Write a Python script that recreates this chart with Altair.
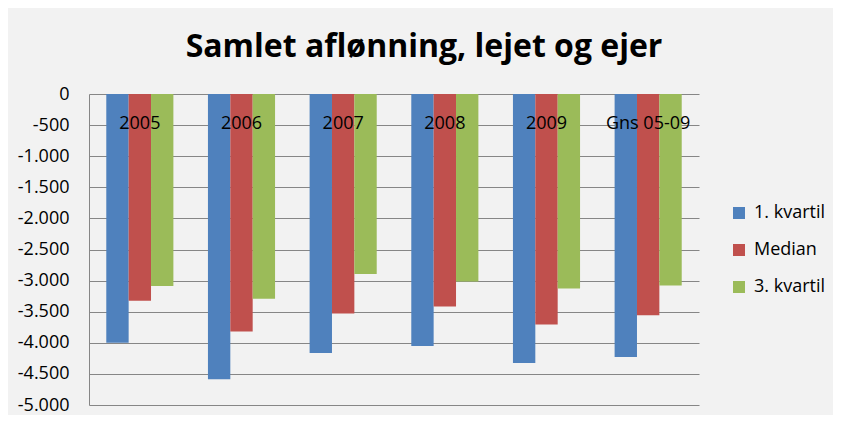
import altair as alt
import pandas as pd

categories = ["2005", "2006", "2007", "2008", "2009", "Gns 05-09"]
series_names = ["1. kvartil", "Median", "3. kvartil"]
q1 = [-4000, -4585, -4165, -4053, -4324, -4229]
median = [-3324, -3819, -3527, -3415, -3707, -3559]
q3 = [-3085, -3293, -2894, -3016, -3128, -3080]
colors = ["#4F81BD", "#C0504D", "#9BBB59"]

rows = []
for name, vals in zip(series_names, [q1, median, q3]):
    for c, v in zip(categories, vals):
        rows.append({"Kategori": c, "Serie": name, "Værdi": v})
df = pd.DataFrame(rows)

FONT = "Open Sans"
W, H = 610, 311

chart = alt.Chart(df).mark_bar().encode(
    x=alt.X("Kategori:N", sort=categories, title=None,
            scale=alt.Scale(paddingInner=0.34, paddingOuter=0.17),
            axis=alt.Axis(orient="bottom", offset=-H, domain=False, ticks=False,
                          labelAngle=0, labelPadding=20, labelFontSize=18,
                          labelFont=FONT, labelColor="#000000", grid=False,
                          zindex=1)),
    xOffset=alt.XOffset("Serie:N", sort=series_names),
    y=alt.Y("Værdi:Q", title=None,
            scale=alt.Scale(domain=[-5000, 0], nice=False),
            axis=alt.Axis(values=list(range(-5000, 1, 500)), ticks=False,
                          domain=True, domainColor="#868686",
                          gridColor="#868686", gridOpacity=1, gridWidth=1,
                          labelFontSize=18, labelFont=FONT, labelColor="#000000",
                          labelPadding=20,
                          labelExpr="replace(replace(format(datum.value, ','), /,/g, '.'), /\u2212/g, '-')")),
    color=alt.Color("Serie:N", sort=series_names,
                    scale=alt.Scale(domain=series_names, range=colors),
                    legend=alt.Legend(title=None, orient="none", legendX=641, legendY=110,
                                      symbolType="square", symbolSize=144,
                                      symbolStrokeWidth=0, labelFontSize=18,
                                      labelFont=FONT, labelColor="#000000",
                                      rowPadding=19, labelOffset=6)),
).properties(
    width=W, height=H,
    title=alt.Title("Samlet aflønning, lejet og ejer", fontSize=32, font=FONT,
                    fontWeight="bold", color="#000000", anchor="middle",
                    frame="group", offset=21, dx=30),
    autosize=alt.AutoSizeParams(type="none"),
    padding={"left": 81, "top": 86, "right": 134, "bottom": 10},
    background="#F2F2F2",
).configure_view(stroke=None)

chart.save("out.html", embed_options={"renderer": "svg", "actions": False})
